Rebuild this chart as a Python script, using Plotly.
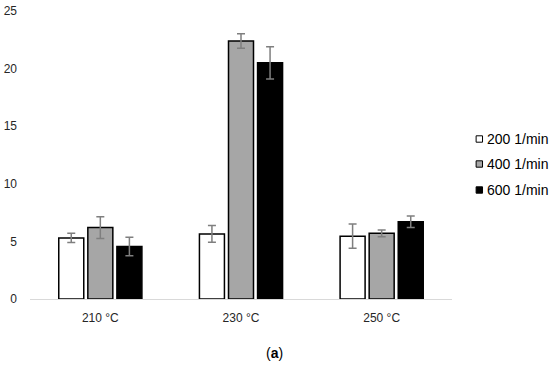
import plotly.graph_objects as go

categories = ["210 °C", "230 °C", "250 °C"]
series_names = ["200 1/min", "400 1/min", "600 1/min"]
values_200 = [5.3, 5.65, 5.45]
values_400 = [6.2, 22.4, 5.7]
values_600 = [4.55, 20.5, 6.7]
err_200 = [0.4, 0.72, 1.05]
err_400 = [0.95, 0.63, 0.3]
err_600 = [0.8, 1.4, 0.5]
y_ticks = [0, 5, 10, 15, 20, 25]

fills = ["#ffffff", "#a6a6a6", "#000000"]
all_vals = [values_200, values_400, values_600]
all_errs = [err_200, err_400, err_600]

fig = go.Figure()
for name, vals, errs, col in zip(series_names, all_vals, all_errs, fills):
    fig.add_trace(go.Bar(
        x=categories, y=vals, name=name,
        marker=dict(color=col, line=dict(color="#000000", width=1.5)),
        error_y=dict(type="data", array=errs, visible=True,
                     color="#7f7f7f", thickness=1.5, width=4),
        showlegend=False,
    ))

# plot area in page pixels: x 30..451.7, y 11..299
PL, PW, PB, PH = 30, 421.7, 299, 288

# custom legend (small square swatches close to text)
legend_y_px = [139, 164, 190]
for name, col, ypx in zip(series_names, fills, legend_y_px):
    yp = (PB - ypx) / PH
    fig.add_shape(type="rect", xref="paper", yref="paper",
                  xsizemode="pixel", ysizemode="pixel",
                  xanchor=(479 - PL) / PW, yanchor=yp,
                  x0=-3.2, x1=3.2, y0=-3.2, y1=3.2,
                  fillcolor=col, line=dict(color="#000000", width=1))
    fig.add_annotation(text=name, xref="paper", yref="paper",
                       x=(485 - PL) / PW, y=yp, xanchor="left", yanchor="middle",
                       showarrow=False, font=dict(size=14, color="#000000"))

fig.add_annotation(text="(<b>a</b>)", xref="paper", yref="paper",
                   x=(274 - PL) / PW, y=(PB - 353) / PH,
                   xanchor="center", yanchor="middle", showarrow=False,
                   font=dict(size=14, color="#000000"))

fig.update_layout(
    width=550, height=366,
    margin=dict(l=30, r=98, t=11, b=67),
    paper_bgcolor="#ffffff", plot_bgcolor="#ffffff",
    barmode="group", bargap=0.38, bargroupgap=0.14,
    font=dict(family="Liberation Sans, Arial, sans-serif", size=12, color="#262626"),
    xaxis=dict(showline=True, linecolor="#d9d9d9", linewidth=1, automargin=False,
               showgrid=False, ticks="", ticklabelstandoff=8,
               tickfont=dict(size=12, color="#262626")),
    yaxis=dict(range=[0, 25], tickvals=y_ticks, showgrid=False, zeroline=False,
               showline=False, ticks="", ticklabelstandoff=12, automargin=False,
               tickfont=dict(size=12, color="#262626")),
)

fig.write_html(
    "out.html",
    config={"displayModeBar": False},
    post_script="document.body.style.margin='0';document.body.style.overflow='hidden';",
)
